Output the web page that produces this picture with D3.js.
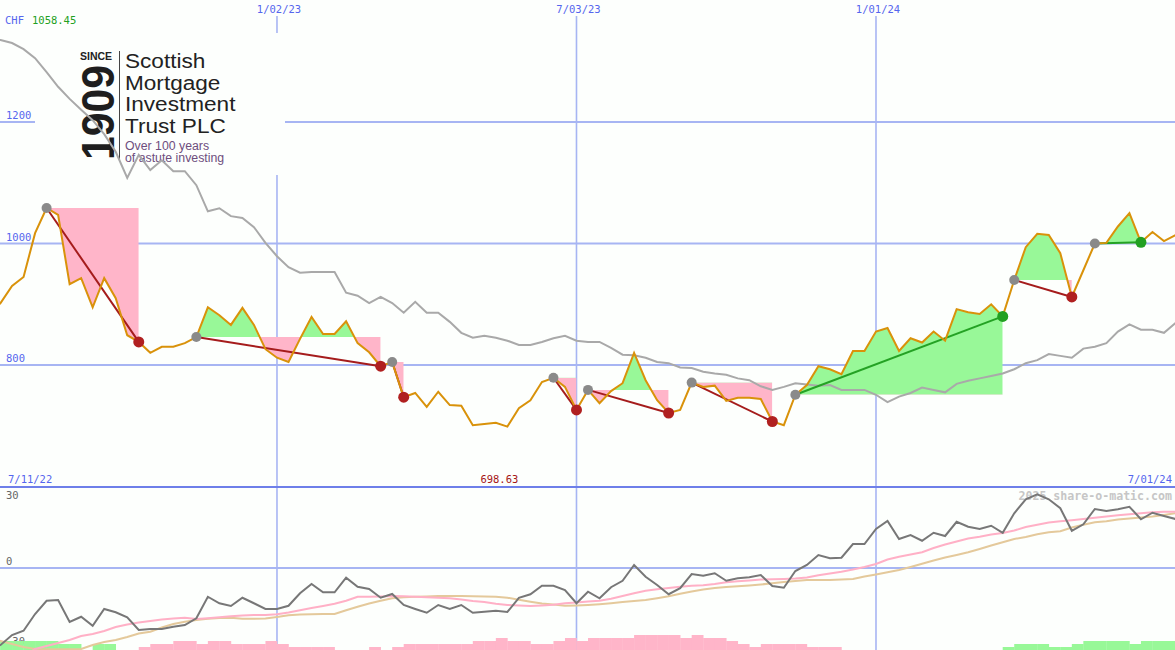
<!DOCTYPE html>
<html><head><meta charset="utf-8">
<script src="https://cdn.jsdelivr.net/npm/d3@7"></script>
<style>html,body{margin:0;padding:0;background:#fdfffd;} svg{display:block;}</style>
</head><body><svg id="c" width="1175" height="650"></svg>
<script>
// ---------- data ----------
const startDate = "2022-07-11";   // first weekly observation
const weekCount = 104;
const currency = "CHF";
const watermark = "2025 share-o-matic.com";

const price = [882, 902, 930, 945, 1017, 1058.45, 1047, 933, 943, 895,
 943, 910, 849, 838, 820, 830, 830, 836, 846, 895,
 882, 866, 894, 866, 826, 812, 805, 843, 879, 851,
 851, 872, 836, 821, 798, 805, 747, 754, 731, 756,
 734, 733, 701, 703, 705, 698.63, 729, 742, 772, 779,
 764, 726, 759, 737, 757, 770, 820, 775, 742, 721,
 726, 771, 764, 766, 741, 746, 746, 744, 707, 701,
 751, 767, 798, 793, 785, 823, 823, 855, 861, 823,
 844, 837, 855, 840, 892, 887, 884, 900, 880, 940,
 994, 1016, 1014, 984, 912, 956, 1000, 1001, 1028, 1050,
 1002, 1019, 1004, 1014];

const compare = [1338, 1335, 1330, 1320, 1305, 1282, 1258, 1238, 1220, 1203,
 1180, 1151, 1108, 1146, 1121, 1137, 1119, 1119, 1096, 1053,
 1058, 1045, 1042, 1027, 1001, 979, 961, 952, 953, 953,
 953, 919, 914, 902, 912, 902, 886, 904, 886, 886,
 871, 853, 845, 848, 845, 840, 833, 833, 838, 844,
 848, 840, 838, 838, 828, 817, 816, 812, 805, 803,
 796, 795, 789, 786, 784, 778, 775, 765, 759, 764,
 770, 768, 766, 767, 759, 759, 759, 751, 739, 748,
 754, 763, 759, 755, 769, 774, 778, 782, 786, 793,
 803, 808, 818, 815, 812, 827, 830, 836, 855, 867,
 858, 858, 853, 869];

const osc = [-33, -30.8, -26.8, -25.1, -18.4, -13.1, -12.8, -21.6, -19.5, -23.1,
 -16.4, -17.7, -19.7, -24.8, -24.4, -24.4, -23.5, -22.8, -20.1, -11.5,
 -14.1, -15.2, -11.9, -14.1, -16.4, -16.4, -15.1, -10.1, -6.4, -9.7,
 -9.7, -3.9, -7.5, -8.4, -11.9, -10.4, -14.8, -16.4, -17.9, -14.8,
 -16.4, -14.8, -17.9, -17.5, -17.1, -17.6, -11.9, -10.5, -7.1, -7.1,
 -8.8, -14.1, -9.5, -12.1, -7.7, -5.1, 1.2, -3.5, -6.8, -10.5,
 -8.1, -2.4, -3.1, -2.1, -5.1, -4.1, -3.7, -2.8, -7.2, -7.9,
 -1.2, 1.2, 5.2, 3.9, 4.1, 9.6, 9.6, 15.6, 18.8, 11.6,
 13.2, 10.9, 14.1, 12.8, 18.5, 16.5, 15.6, 16.9, 14.1, 21.9,
 27.5, 29.5, 27.5, 23.9, 14.9, 17.5, 23.6, 22.8, 23.5, 24.5,
 19.5, 22.1, 20.8, 19.6];

const maFast = [-40, -39, -37.5, -35.5, -32.4, -31.2, -30, -28.8, -27.2, -26.4,
 -25.2, -23.6, -22.6, -21.8, -21.2, -20.6, -20.2, -19.9, -20.4, -20.1,
 -19.7, -19.3, -19.0, -18.8, -18.8, -18.5, -17.8, -16.9, -16, -15.2,
 -14.3, -13.1, -11.5, -11.5, -11.4, -11.2, -11.3, -11.5, -11.7, -11.9,
 -12.1, -12.6, -13.2, -13.6, -14.3, -14.8, -15.0, -15.2, -15.0, -14.7,
 -14.1, -13.8, -13.4, -13.1, -12.3, -11.2, -10.1, -9.1, -8.5, -8,
 -7.5, -7.1, -6.9, -6.4, -5.7, -5.3, -5, -4.6, -4.5, -4.4,
 -4.2, -3.8, -2.9, -2.2, -1.5, -0.6, 0.4, 1.6, 3.4, 4.5,
 5.4, 6.3, 8, 9.4, 10.6, 11.8, 12.5, 13.4, 14, 15,
 16.4, 17.3, 18.2, 18.7, 19.1, 19.6, 20.1, 20.6, 21.1, 21.5,
 21.9, 22.3, 22.5, 22.5];

const maSlow = [-28, -29.2, -30.4, -31.6, -32.4, -32.5, -32.5, -32.5, -32.4, -30.8,
 -29.6, -28.8, -27.6, -26.2, -25.5, -23.8, -22.4, -21.5, -20.8, -20.3,
 -20, -19.9, -20.3, -20.3, -20.2, -19.6, -18.9, -18.6, -18.5, -18.4,
 -18.4, -16.9, -15.5, -14.2, -13.1, -12.1, -11.7, -11.5, -11.4, -11.2,
 -11.2, -11.2, -11.3, -11.4, -11.5, -11.9, -12.7, -13.5, -14.2, -14.6,
 -15.1, -15, -14.8, -14.5, -14.1, -13.6, -13.2, -12.8, -12.1, -11.3,
 -10.3, -9.4, -8.6, -8, -7.6, -7.3, -7, -6.6, -6.1, -5.6,
 -5.2, -4.8, -4.8, -4.8, -4.6, -4.4, -3.4, -2.6, -1.7, -0.8,
 0.4, 1.7, 3, 4.2, 5.2, 6.3, 7.6, 9, 10.3, 11.6,
 12.4, 13.5, 14.3, 14.7, 16.2, 17.3, 18.3, 18.7, 19.4, 19.8,
 20.2, 20.6, 21.2, 21.9];

const histo = [3, 3, 3, 3, 3, 3, 2, 2, 0, 2,
 2, 0, 0, -1, -2, -2, -3, -3, -2, -3,
 -3, -2, -2, -2, -3, -2, -1, -1, -1, -1,
 0, 0, 0, -1, 0, -1, -2, -2, -2, -2,
 -2, -2, -3, -3, -4, -3, -3, -2, -2, -3,
 -4, -3, -4, -4, -4, -4, -5, -5, -5, -5,
 -4, -5, -4, -4, -3, -2, -1, -2, -2, -2,
 -2, -1, -1, -1, 0, 0, 0, 0, 0, 0,
 0, 0, 0, 0, 0, 0, 0, 0, 1, 2,
 2, 2, 1, 1, 2, 3, 3, 3, 3, 2,
 3, 3, 3, 3];

// swing segments: [start week index, end week index]
const segments = [[5,13],[18,34],[35,36],[49,51],[52,59],[61,68],[70,88],[89,94],[96,100]];

const priceTicks = [800, 1000, 1200];
const oscTicks = [30, 0, -30];
const dateTicks = ["2023-01-02", "2023-07-03", "2024-01-01"];
const logoLines = ["Scottish", "Mortgage", "Investment", "Trust PLC"];
const logoTagline = ["Over 100 years", "of astute investing"];

// ---------- setup ----------
const W = 1175, H = 650, SPLIT = 487;
const parse = d3.utcParse("%Y-%m-%d");
const fmt = d3.utcFormat("%-m/%d/%y");
const d0 = parse(startDate);
const dates = d3.range(weekCount).map(i => d3.utcDay.offset(d0, 7 * i));
const idx = d3.range(weekCount);

const x = d3.scaleUtc().domain([dates[0], dates[weekCount - 1]]).range([-11, 1175.5]);
const y = d3.scaleLinear().domain([600, 1400]).range([486.5, 0.5]);
const y2 = d3.scaleLinear().domain([-30, 30]).range([643, 493]);
const barH = d3.scaleLinear().domain([0, 5]).range([0, 15]);

const svg = d3.select("#c");
const BG = "#fdfffd";
const GRID = "#a7b5f3";
const BLUE = "#5566ee";
const mono = "'DejaVu Sans Mono', monospace";
const sans = "'Liberation Sans', Arial, sans-serif";

svg.append("rect").attr("width", W).attr("height", H).attr("fill", BG);

const defs = svg.append("defs");
defs.append("clipPath").attr("id", "lowClip").append("rect")
  .attr("x", 0).attr("y", SPLIT + 1).attr("width", W).attr("height", H - SPLIT - 1);

// ---------- grid ----------
const grid = svg.append("g");
grid.selectAll("line.h").data(priceTicks).join("line")
  .attr("x1", 0).attr("x2", W).attr("y1", d => y(d)).attr("y2", d => y(d))
  .attr("stroke", GRID).attr("stroke-width", 2);
grid.selectAll("line.v").data(dateTicks).join("line")
  .attr("x1", d => x(parse(d))).attr("x2", d => x(parse(d)))
  .attr("y1", 16).attr("y2", H)
  .attr("stroke", GRID).attr("stroke-width", 1.6);
grid.append("line").attr("x1", 0).attr("x2", W).attr("y1", y2(0)).attr("y2", y2(0))
  .attr("stroke", GRID).attr("stroke-width", 2);
grid.append("line").attr("x1", 0).attr("x2", W).attr("y1", SPLIT).attr("y2", SPLIT)
  .attr("stroke", "#6e7fe9").attr("stroke-width", 2);

// ---------- logo ----------
const logo = svg.append("g");
logo.append("rect").attr("x", 35).attr("y", 33).attr("width", 250).attr("height", 142).attr("fill", BG);
logo.append("text").attr("x", 80).attr("y", 60).attr("font-family", sans).attr("font-weight", "bold")
  .attr("font-size", 10.5).attr("fill", "#222").text("SINCE");
logo.append("text").attr("transform", "translate(113.5,160) rotate(-90)")
  .attr("font-family", sans).attr("font-weight", "bold").attr("font-size", 46)
  .attr("textLength", 95).attr("lengthAdjust", "spacingAndGlyphs").attr("fill", "#1e1e1e").text("1909");
logo.append("line").attr("x1", 119.5).attr("x2", 119.5).attr("y1", 51).attr("y2", 160)
  .attr("stroke", "#444").attr("stroke-width", 1);
logo.selectAll("text.name").data(logoLines).join("text").attr("class", "name")
  .attr("transform", (d, i) => `translate(125,${68 + i * 21.7}) scale(1.17,1)`)
  .attr("font-family", sans).attr("font-size", 19.3).attr("fill", "#222").text(d => d);
logo.selectAll("text.tag").data(logoTagline).join("text").attr("class", "tag")
  .attr("x", 125).attr("y", (d, i) => 150 + i * 12)
  .attr("font-family", sans).attr("font-size", 12.3).attr("fill", "#6e4e7e").text(d => d);

// ---------- axis labels ----------
const lab = svg.append("g").attr("font-family", mono).attr("font-size", 10.5);
lab.selectAll("text.p").data(priceTicks).join("text")
  .attr("x", 6).attr("y", d => y(d) - 3).attr("fill", BLUE).text(d => d);
lab.selectAll("text.d").data(dateTicks).join("text")
  .attr("x", d => x(parse(d)) + 2).attr("y", 13).attr("text-anchor", "middle")
  .attr("fill", BLUE).text(d => fmt(parse(d)));
lab.append("text").attr("x", 8).attr("y", 483).attr("fill", BLUE).text(fmt(dates[0]));
lab.append("text").attr("x", 1172).attr("y", 483).attr("text-anchor", "end").attr("fill", BLUE).text(fmt(dates[weekCount - 1]));
const maxV = d3.max(price), minI = d3.minIndex(price);
lab.append("text").attr("x", 5).attr("y", 24).attr("fill", BLUE).text(currency);
lab.append("text").attr("x", 32).attr("y", 24).attr("fill", "#22a022").text(maxV.toFixed(2));
lab.append("text").attr("x", x(dates[minI]) - 8).attr("y", 483).attr("text-anchor", "middle")
  .attr("fill", "#a51515").text(price[minI].toFixed(2));
lab.selectAll("text.o").data(oscTicks).join("text")
  .attr("x", 6).attr("y", (d, i) => i === 0 ? 499 : (i === oscTicks.length - 1 ? 645 : y2(d) - 3))
  .attr("fill", "#666").text(d => d);

// ---------- swing fills ----------
const fills = svg.append("g");
segments.forEach(([a, b], k) => {
  const sub = d3.range(a, b + 1);
  const base = y(price[a]);
  const xa = x(dates[a]), xb = x(dates[b]);
  const area = d3.area().x(i => x(dates[i])).y0(base).y1(i => y(price[i]));
  defs.append("clipPath").attr("id", "up" + k).append("rect")
    .attr("x", xa).attr("y", 0).attr("width", xb - xa).attr("height", base);
  defs.append("clipPath").attr("id", "dn" + k).append("rect")
    .attr("x", xa).attr("y", base).attr("width", xb - xa).attr("height", SPLIT - base);
  fills.append("path").attr("d", area(sub)).attr("fill", "#98f898").attr("clip-path", `url(#up${k})`);
  fills.append("path").attr("d", area(sub)).attr("fill", "#ffb5c9").attr("clip-path", `url(#dn${k})`);
});

// ---------- lower panel ----------
const low = svg.append("g").attr("clip-path", "url(#lowClip)");
low.append("text").attr("x", 1172).attr("y", 500).attr("text-anchor", "end")
  .attr("font-family", mono).attr("font-weight", "bold").attr("font-size", 11.6)
  .attr("fill", "#c6c6c6").text(watermark);
low.selectAll("rect.b").data(idx.filter(i => histo[i] !== 0)).join("rect")
  .attr("x", i => x(dates[i]))
  .attr("width", i => (i < weekCount - 1 ? x(dates[i + 1]) : x(dates[i]) + 11.5) - x(dates[i]) + 0.3)
  .attr("y", i => H - barH(Math.abs(histo[i])))
  .attr("height", i => barH(Math.abs(histo[i])))
  .attr("fill", i => histo[i] > 0 ? "#98f898" : "#ffb5c9");
const l2 = arr => d3.line().x(i => x(dates[i])).y(i => y2(arr[i]))(idx);
low.append("path").attr("d", l2(maSlow)).attr("fill", "none").attr("stroke", "#e4c99b").attr("stroke-width", 2);
low.append("path").attr("d", l2(maFast)).attr("fill", "none").attr("stroke", "#ffb0c6").attr("stroke-width", 2);
low.append("path").attr("d", l2(osc)).attr("fill", "none").attr("stroke", "#777").attr("stroke-width", 2);

// ---------- main lines ----------
const lineMain = arr => d3.line().x(i => x(dates[i])).y(i => y(arr[i]))(idx);
svg.append("path").attr("d", lineMain(compare)).attr("fill", "none").attr("stroke", "#a9a9a9").attr("stroke-width", 2);
const trend = svg.append("g");
segments.forEach(([a, b]) => {
  trend.append("line")
    .attr("x1", x(dates[a])).attr("y1", y(price[a]))
    .attr("x2", x(dates[b])).attr("y2", y(price[b]))
    .attr("stroke", price[b] < price[a] ? "#a51c1c" : "#24a224").attr("stroke-width", 2);
});
svg.append("path").attr("d", lineMain(price)).attr("fill", "none").attr("stroke", "#d9920a").attr("stroke-width", 2);

const dots = svg.append("g");
segments.forEach(([a, b]) => {
  dots.append("circle").attr("cx", x(dates[a])).attr("cy", y(price[a])).attr("r", 5).attr("fill", "#8a8a8a");
  dots.append("circle").attr("cx", x(dates[b])).attr("cy", y(price[b])).attr("r", 5.5)
    .attr("fill", price[b] < price[a] ? "#b02020" : "#22a022");
});
</script></body></html>
